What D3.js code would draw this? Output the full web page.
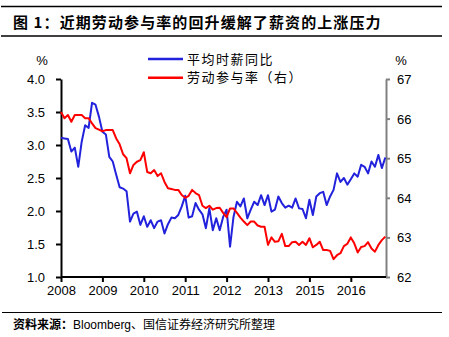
<!DOCTYPE html>
<html><head><meta charset="utf-8">
<script src="https://cdn.jsdelivr.net/npm/d3@7"></script>
<style>
body{margin:0;background:#fff;}
svg{display:block;font-family:"Liberation Sans",Arial,sans-serif;}
.cjk{font-family:"Noto Sans CJK SC","Liberation Sans",sans-serif;}
</style></head><body>
<svg id="c" width="449" height="337"></svg>
<script>
const title = "图 1：近期劳动参与率的回升缓解了薪资的上涨压力";
const source = "资料来源：Bloomberg、国信证券经济研究所整理";
const seriesNames = ["平均时薪同比", "劳动参与率（右）"];
const xTickLabels = ["2008","2009","2010","2011","2012","2013","2015","2016"];
const xTickIndex = [0,12,24,36,48,60,72,84];
const leftTicks = [1.0,1.5,2.0,2.5,3.0,3.5,4.0];
const rightTicks = [62,63,64,65,66,67];
// monthly values (left axis, %)
const wageYoY = [3.11,3.10,3.09,2.90,2.96,2.67,3.05,3.30,3.26,3.64,3.61,3.43,
 3.20,3.16,2.82,2.75,2.55,2.36,2.34,2.30,1.84,1.96,1.99,1.79,
 1.92,1.76,1.86,1.74,1.84,1.86,1.66,1.80,1.90,1.89,1.94,2.07,
 2.23,1.90,1.92,2.12,2.02,1.95,1.74,2.04,1.71,1.89,1.71,1.91,
 2.02,1.46,1.91,2.14,2.07,2.19,1.89,2.02,2.14,2.09,2.24,2.09,
 2.24,1.99,2.02,2.22,2.12,2.05,2.08,2.05,2.19,2.04,2.03,1.89,
 2.17,1.94,2.22,2.27,2.29,2.09,2.22,2.32,2.57,2.44,2.50,2.40,
 2.48,2.57,2.52,2.70,2.67,2.57,2.75,2.67,2.85,2.65,2.81];
// monthly values (right axis, %)
const participation = [66.17,66.01,66.09,65.92,66.09,66.09,66.09,66.01,66.01,65.88,65.76,65.72,
 65.68,65.71,65.71,65.71,65.50,65.35,65.10,65.00,64.62,64.83,64.91,64.95,
 65.15,64.65,64.62,64.70,64.55,64.62,64.40,64.24,64.22,64.20,64.20,64.07,
 64.00,64.05,64.20,64.12,64.07,63.80,63.74,63.80,63.70,63.74,63.75,63.62,
 63.51,63.73,63.73,63.62,63.50,63.40,63.31,63.40,63.40,63.30,63.27,63.27,
 62.81,63.00,62.89,62.90,63.09,62.78,62.78,62.88,62.89,62.81,62.89,62.81,
 62.98,62.75,62.81,62.89,62.68,62.68,62.66,62.45,62.55,62.60,62.78,62.84,
 63.00,62.85,62.62,62.76,62.78,62.88,62.72,62.64,62.81,62.93,63.02];

const svg = d3.select("#c");
const L = 61, R = 386, T = 79, B = 277;
const x = d3.scaleLinear().domain([0, 94]).range([L, 385.3]);
const yL = d3.scaleLinear().domain([1, 4]).range([B, T]);
const yR = d3.scaleLinear().domain([62, 67]).range([B, T]);

// title & rules
svg.append("line").attr("x1",1).attr("x2",442).attr("y1",6.5).attr("y2",6.5).attr("stroke","#000").attr("stroke-width",1.5);
svg.append("line").attr("x1",1).attr("x2",442).attr("y1",36).attr("y2",36).attr("stroke","#000").attr("stroke-width",1.5);
svg.append("text").attr("class","cjk").attr("x",13).attr("y",28).attr("font-size",15).attr("font-weight","bold")
  .attr("letter-spacing",1.1).attr("fill","#000").text(title);

// axes
const gL = svg.append("g").attr("transform",`translate(${L},0)`)
  .call(d3.axisLeft(yL).tickValues(leftTicks).tickFormat(d3.format(".1f")).tickSize(5).tickSizeOuter(0));
gL.select(".domain").attr("stroke","#000").attr("stroke-width",2);
gL.selectAll(".tick line").attr("stroke","#000").attr("stroke-width",2);
gL.selectAll(".tick text").attr("font-size",13).attr("fill","#000").attr("x",-16).attr("dy","0.35em");

const gR = svg.append("g").attr("transform",`translate(${R},0)`)
  .call(d3.axisRight(yR).tickValues(rightTicks).tickFormat(d3.format("d")).tickSize(4).tickSizeOuter(0));
gR.select(".domain").attr("stroke","#808080").attr("stroke-width",2);
gR.selectAll(".tick line").attr("stroke","#808080").attr("stroke-width",2);
gR.selectAll(".tick text").attr("font-size",13).attr("fill","#000").attr("x",11).attr("dy","0.35em");

const gB = svg.append("g").attr("transform",`translate(0,${B})`)
  .call(d3.axisBottom(x).tickValues(xTickIndex).tickFormat((d,i)=>xTickLabels[i]).tickSize(5).tickSizeOuter(0));
gB.select(".domain").attr("stroke","#000").attr("stroke-width",2).attr("d",`M${L},0H${R}`);
gB.selectAll(".tick line").attr("stroke","#000").attr("stroke-width",2);
gB.selectAll(".tick text").attr("font-size",13).attr("fill","#000").attr("y",9);

svg.append("text").attr("x",42).attr("y",65).attr("text-anchor","middle").attr("font-size",13).text("%");
svg.append("text").attr("x",401).attr("y",65).attr("text-anchor","middle").attr("font-size",13).text("%");

// lines
svg.append("path").datum(wageYoY).attr("fill","none").attr("stroke","#2222DD").attr("stroke-width",2)
  .attr("stroke-linejoin","round")
  .attr("d", d3.line().x((d,i)=>x(i)).y(d=>yL(d)));
svg.append("path").datum(participation).attr("fill","none").attr("stroke","#FF0000").attr("stroke-width",2)
  .attr("stroke-linejoin","round")
  .attr("d", d3.line().x((d,i)=>x(i)).y(d=>yR(d)));

// legend
const colors = ["#2222DD","#FF0000"];
seriesNames.forEach((n,i)=>{
  const yy = 59 + i*18.7;
  svg.append("line").attr("x1",148).attr("x2",183).attr("y1",yy).attr("y2",yy).attr("stroke",colors[i]).attr("stroke-width",2.5);
  svg.append("text").attr("class","cjk").attr("x",187).attr("y",yy).attr("dy","0.36em").attr("font-size",13)
    .attr("letter-spacing",1.5).attr("fill","#000").text(n);
});

// footer
svg.append("line").attr("x1",2).attr("x2",442).attr("y1",312.5).attr("y2",312.5).attr("stroke","#000").attr("stroke-width",1.2);
const ft = svg.append("text").attr("x",13).attr("y",329).attr("font-size",12).attr("fill","#000");
ft.append("tspan").attr("class","cjk").attr("font-weight","bold").text(source.slice(0,5));
ft.append("tspan").text(source.slice(5,14));
ft.append("tspan").attr("class","cjk").text(source.slice(14));
</script></body></html>
